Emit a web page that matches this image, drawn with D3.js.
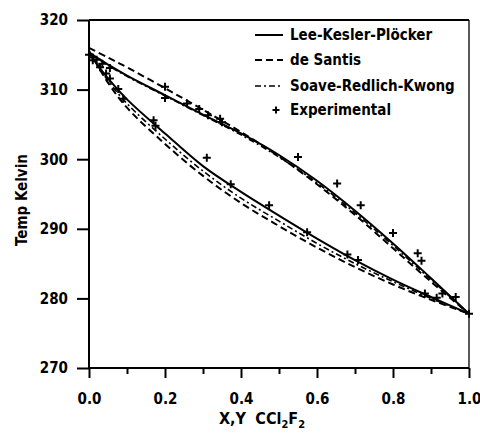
<!DOCTYPE html>
<html><head><meta charset="utf-8">
<script src="https://cdn.jsdelivr.net/npm/d3@7"></script>
<style>
body{margin:0;background:#fff;}
text{font-family:'Liberation Sans Narrow','DejaVu Sans Condensed',sans-serif;fill:#000;}
</style></head>
<body>
<svg id="c" width="480" height="437"></svg>
<script>
// composition grid (mole fraction CCl2F2)
const xGrid = [0, 0.05, 0.1, 0.2, 0.3, 0.4, 0.5, 0.6, 0.7, 0.8, 0.9, 1.0];
// dew (vapour, Y) curves
const dewLKP = [315.3, 313.6, 312.0, 309.2, 306.4, 303.7, 300.6, 296.9, 292.6, 287.9, 282.9, 277.8];
const dewDeSantis = [316.0, 314.6, 313.2, 310.2, 307.1, 303.9, 300.4, 296.4, 292.0, 287.2, 282.4, 277.8];
const dewSRK = [315.3, 313.5, 311.9, 309.1, 306.3, 303.5, 300.3, 296.6, 292.3, 287.6, 282.7, 277.8];
// bubble (liquid, X) curves
const bubLKP = [315.3, 311.6, 308.6, 303.7, 299.0, 295.3, 291.9, 288.6, 285.5, 282.7, 280.2, 277.8];
const bubDeSantis = [315.6, 311.0, 307.4, 302.2, 297.6, 293.7, 290.4, 287.3, 284.5, 282.0, 279.8, 277.8];
const bubSRK = [315.3, 311.3, 308.0, 302.9, 298.3, 294.4, 291.1, 287.9, 285.0, 282.4, 280.0, 277.8];
// experimental points
const expDewX = [0.0, 0.01, 0.02, 0.035, 0.055, 0.2, 0.2, 0.258, 0.29, 0.313, 0.345, 0.35, 0.55, 0.653, 0.715, 0.8, 0.865, 0.875, 0.965];
const expDewT = [315.0, 314.6, 314.3, 313.7, 313.1, 310.4, 308.8, 308.0, 307.2, 306.3, 305.8, 305.3, 300.3, 296.5, 293.4, 289.4, 286.5, 285.4, 280.2];
const expBubX = [0.01, 0.029, 0.045, 0.055, 0.077, 0.09, 0.17, 0.175, 0.31, 0.373, 0.474, 0.574, 0.68, 0.708, 0.884, 0.915, 0.93, 1.0];
const expBubT = [314.2, 313.2, 312.3, 311.6, 310.1, 308.7, 305.6, 304.8, 300.2, 296.4, 293.4, 289.5, 286.3, 285.5, 280.7, 280.1, 280.7, 277.8];
// ticks
const xTicks = [0, 0.2, 0.4, 0.6, 0.8, 1.0];
const xMinor = [0.1, 0.3, 0.5, 0.7, 0.9];
const yTicks = [270, 280, 290, 300, 310, 320];
const legendLabels = ["Lee-Kesler-Plöcker", "de Santis", "Soave-Redlich-Kwong", "Experimental"];

const svg = d3.select("#c");
const L = 89, R = 469, T = 20, B = 368;
const x = d3.scaleLinear().domain([0, 1]).range([L, R]);
const y = d3.scaleLinear().domain([270, 320]).range([B, T]);

// frame
svg.append("line").attr("x1", L).attr("x2", L).attr("y1", T).attr("y2", B).attr("stroke", "#000").attr("stroke-width", 2);
svg.append("line").attr("x1", R).attr("x2", R).attr("y1", T).attr("y2", B).attr("stroke", "#000").attr("stroke-width", 1.3);
svg.append("line").attr("x1", L).attr("x2", R).attr("y1", T).attr("y2", T).attr("stroke", "#000").attr("stroke-width", 2);
svg.append("line").attr("x1", L).attr("x2", R).attr("y1", B).attr("y2", B).attr("stroke", "#000").attr("stroke-width", 2);

// axes
const yAxis = d3.axisLeft(y).tickValues(yTicks).tickSize(12).tickPadding(9).tickFormat(d3.format("d"));
const gy = svg.append("g").attr("transform", `translate(${L},0)`).call(yAxis);
const xAxis = d3.axisBottom(x).tickValues(xTicks).tickSize(10).tickPadding(15).tickFormat(d3.format(".1f"));
const gx = svg.append("g").attr("transform", `translate(0,${B})`).call(xAxis);
const xAxisMinor = d3.axisBottom(x).tickValues(xMinor).tickSize(6).tickFormat("");
const gxm = svg.append("g").attr("transform", `translate(0,${B})`).call(xAxisMinor);
[gx, gy, gxm].forEach(g => {
  g.select(".domain").remove();
  g.selectAll(".tick line").attr("stroke", "#000").attr("stroke-width", 2);
  g.selectAll("text").attr("font-size", 15).attr("font-weight", "bold").attr("fill", "#000")
    .style("font-family", "'Liberation Sans Narrow','DejaVu Sans Condensed',sans-serif");
});

// axis titles
svg.append("text").attr("transform", "translate(27,200) rotate(-90)").attr("text-anchor", "middle")
  .attr("font-size", 15).attr("font-weight", "bold").text("Temp Kelvin");
const xt = svg.append("text").attr("x", 262).attr("y", 424).attr("text-anchor", "middle")
  .attr("font-size", 16).attr("font-weight", "bold");
xt.append("tspan").text("X,Y");
xt.append("tspan").attr("dx", 10).text("CCl");
xt.append("tspan").attr("font-size", 11).attr("dy", 4).text("2");
xt.append("tspan").attr("dy", -4).text("F");
xt.append("tspan").attr("font-size", 11).attr("dy", 4).text("2");

// curves
const line = d3.line().x(d => x(d[0])).y(d => y(d[1])).curve(d3.curveCatmullRom.alpha(0.5));
const styles = {
  solid: {dash: null, w: 2},
  dashed: {dash: "7,4", w: 2},
  dashdot: {dash: "6,3,2,3", w: 1.6}
};
const series = [
  [dewLKP, "solid"], [bubLKP, "solid"],
  [dewDeSantis, "dashed"], [bubDeSantis, "dashed"],
  [dewSRK, "dashdot"], [bubSRK, "dashdot"]
];
series.forEach(([vals, st]) => {
  svg.append("path").datum(xGrid.map((v, i) => [v, vals[i]]))
    .attr("d", line).attr("fill", "none").attr("stroke", "#000")
    .attr("stroke-width", styles[st].w).attr("stroke-dasharray", styles[st].dash);
});

// experimental markers
function plus(g, cx, cy, s) {
  g.append("path").attr("d", `M${cx - s},${cy}H${cx + s}M${cx},${cy - s}V${cy + s}`)
    .attr("stroke", "#000").attr("stroke-width", 2).attr("fill", "none");
}
const pts = svg.append("g");
expDewX.forEach((v, i) => plus(pts, x(v), y(expDewT[i]), 4));
expBubX.forEach((v, i) => plus(pts, x(v), y(expBubT[i]), 4));

// legend
const lg = svg.append("g");
const rows = [35, 60, 86, 110];
const kinds = ["solid", "dashed", "dashdot", "plus"];
rows.forEach((ry, i) => {
  if (kinds[i] === "plus") plus(lg, 276, ry, 3.5);
  else lg.append("line").attr("x1", 255).attr("x2", 283).attr("y1", ry).attr("y2", ry)
    .attr("stroke", "#000").attr("stroke-width", styles[kinds[i]].w).attr("stroke-dasharray", styles[kinds[i]].dash);
  lg.append("text").attr("x", 290).attr("y", ry + 5).attr("font-size", 15).attr("font-weight", "bold").text(legendLabels[i]);
});
</script>
</body></html>
